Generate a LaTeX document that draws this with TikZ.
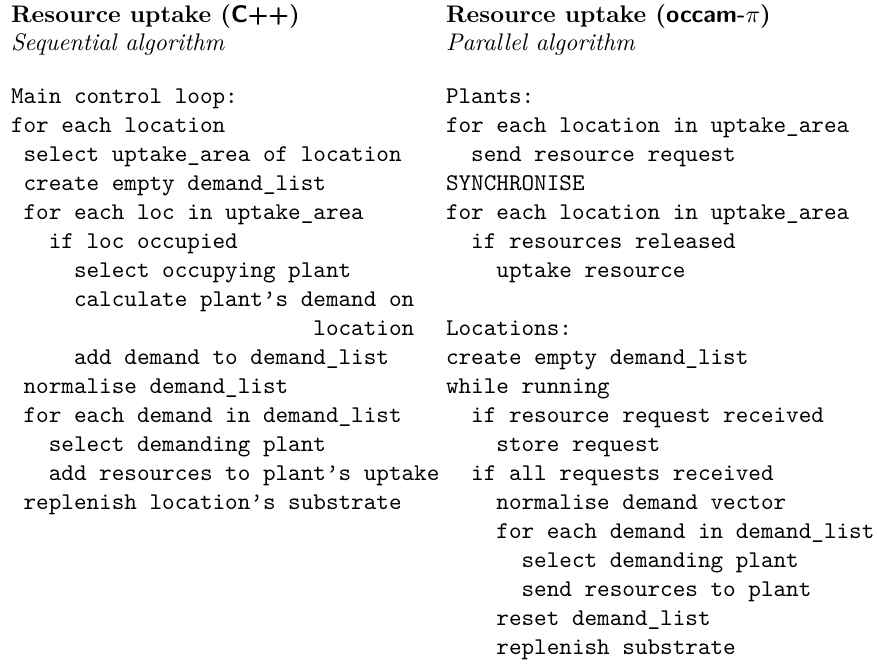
\documentclass[tikz,border=0pt]{standalone}
\usepackage{tikz}
\begin{document}
\begin{tikzpicture}[x=1pt,y=-1pt,
  every node/.style={inner sep=0pt,outer sep=0pt,anchor=base west,scale=2.4},
  head/.style={font=\normalsize\bfseries},
  sub/.style={font=\normalsize\itshape},
  code/.style={font=\normalsize\ttfamily}]
\useasboundingbox (0,0) rectangle (877,664);
% layout constants: column origins, character width, line pitch, first baseline
\def\lx{11}\def\rx{446}\def\cw{12.6}\def\py{29}\def\yz{103}
\newcommand\codeline[5]{\node[code] (#1) at ({#2+#3*\cw},{\yz+#4*\py}) {#5};}
% headings
\node[head] (lh) at (\lx,22) {Resource uptake (\textsf{C++})};
\node[sub]  (ls) at (\lx,50) {Sequential algorithm};
\node[head] (rh) at (\rx,22) {Resource uptake (\textsf{occam-}$\pi$)};
\node[sub]  (rs) at (\rx,50) {Parallel algorithm};
% sequential version
\codeline{l0}{\lx}{0}{0}{Main control loop:}
\codeline{l1}{\lx}{0}{1}{for each location}
\codeline{l2}{\lx}{1}{2}{select uptake\_area of location}
\codeline{l3}{\lx}{1}{3}{create empty demand\_list}
\codeline{l4}{\lx}{1}{4}{for each loc in uptake\_area}
\codeline{l5}{\lx}{3}{5}{if loc occupied}
\codeline{l6}{\lx}{5}{6}{select occupying plant}
\codeline{l7}{\lx}{5}{7}{calculate plant’s demand on}
\codeline{l8}{\lx}{24}{8}{location}
\codeline{l9}{\lx}{5}{9}{add demand to demand\_list}
\codeline{l10}{\lx}{1}{10}{normalise demand\_list}
\codeline{l11}{\lx}{1}{11}{for each demand in demand\_list}
\codeline{l12}{\lx}{3}{12}{select demanding plant}
\codeline{l13}{\lx}{3}{13}{add resources to plant’s uptake}
\codeline{l14}{\lx}{1}{14}{replenish location’s substrate}
% parallel version
\codeline{r0}{\rx}{0}{0}{Plants:}
\codeline{r1}{\rx}{0}{1}{for each location in uptake\_area}
\codeline{r2}{\rx}{2}{2}{send resource request}
\codeline{r3}{\rx}{0}{3}{SYNCHRONISE}
\codeline{r4}{\rx}{0}{4}{for each location in uptake\_area}
\codeline{r5}{\rx}{2}{5}{if resources released}
\codeline{r6}{\rx}{4}{6}{uptake resource}
\codeline{r8}{\rx}{0}{8}{Locations:}
\codeline{r9}{\rx}{0}{9}{create empty demand\_list}
\codeline{r10}{\rx}{0}{10}{while running}
\codeline{r11}{\rx}{2}{11}{if resource request received}
\codeline{r12}{\rx}{4}{12}{store request}
\codeline{r13}{\rx}{2}{13}{if all requests received}
\codeline{r14}{\rx}{4}{14}{normalise demand vector}
\codeline{r15}{\rx}{4}{15}{for each demand in demand\_list}
\codeline{r16}{\rx}{6}{16}{select demanding plant}
\codeline{r17}{\rx}{6}{17}{send resources to plant}
\codeline{r18}{\rx}{4}{18}{reset demand\_list}
\codeline{r19}{\rx}{4}{19}{replenish substrate}
\end{tikzpicture}
\end{document}
